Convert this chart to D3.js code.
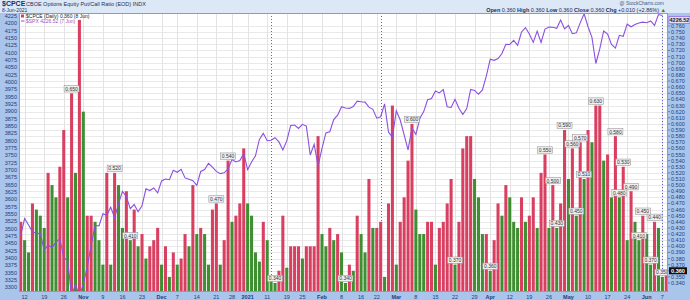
<!DOCTYPE html>
<html>
<head>
<meta charset="utf-8">
<script src="https://cdn.jsdelivr.net/npm/d3@7"></script>
<style>
  body { margin: 0; background: #fff; }
  svg { display: block; font-family: "Liberation Sans", Arial, sans-serif; }
</style>
</head>
<body>
<div id="canvas"></div>
<script>
"use strict"

/* Drawing dimensions */
let svgWidth = 690;
let svgHeight = 300;
let plotLeft = 19, plotRight = 668, plotTop = 13, plotBottom = 292;

/* Data: trading calendar (Oct 9 2020 - Jun 8 2021) */
let startDate = "2020-10-09";
let endDate = "2021-06-08";
let holidays = ["2020-11-26", "2020-12-25", "2021-01-01", "2021-01-18", "2021-02-15", "2021-04-02", "2021-05-31"];

/* $CPCE daily close, one per trading day */
let cpceValues = [
  0.44, 0.41, 0.39, 0.47, 0.46, 0.45, 0.43, 0.52, 0.50, 0.48,
  0.53, 0.59, 0.48, 0.65, 0.52, 0.77, 0.62, 0.45, 0.45, 0.44,
  0.41, 0.37, 0.52, 0.37, 0.52, 0.50, 0.43, 0.49, 0.41, 0.46,
  0.40, 0.42, 0.38, 0.40, 0.41, 0.43, 0.37, 0.40, 0.35, 0.39,
  0.37, 0.38, 0.42, 0.40, 0.50, 0.42, 0.43, 0.42, 0.37, 0.46,
  0.47, 0.37, 0.41, 0.54, 0.44, 0.45, 0.47, 0.56, 0.47, 0.45,
  0.39, 0.375, 0.44, 0.41, 0.35, 0.34, 0.36, 0.45, 0.365, 0.40,
  0.40, 0.40, 0.38, 0.40, 0.40, 0.40, 0.58, 0.42, 0.40, 0.43,
  0.41, 0.42, 0.39, 0.34, 0.37, 0.36, 0.45, 0.42, 0.39, 0.51,
  0.43, 0.43, 0.44, 0.35, 0.47, 0.63, 0.37, 0.44, 0.48, 0.54,
  0.60, 0.46, 0.42, 0.42, 0.44, 0.44, 0.37, 0.43, 0.44, 0.47,
  0.51, 0.37, 0.44, 0.56, 0.58, 0.58, 0.51, 0.48, 0.42, 0.42,
  0.36, 0.41, 0.47, 0.45, 0.50, 0.48, 0.44, 0.43, 0.48, 0.44,
  0.45, 0.48, 0.43, 0.52, 0.55, 0.43, 0.50, 0.43, 0.47, 0.59,
  0.51, 0.56, 0.45, 0.57, 0.51, 0.59, 0.57, 0.63, 0.63, 0.54,
  0.55, 0.48, 0.58, 0.48, 0.53, 0.41, 0.49, 0.44, 0.41, 0.45,
  0.42, 0.37, 0.44, 0.43, 0.35, 0.36
];

/* bar colour per day: r = red, g = green (10 per group) */
let cpceColors = (
  "rggrgggrgg" + "rrgrgrgrrg" + "ggrgrggrgr" + "grgrrrgrgr" +
  "grrgrgrggr" + "rgrrgrrrgg" + "ggrgggrrgr" + "rrgrrrrggr" +
  "grggrgrggr" + "grrgrrgrrr" + "rgggrrgrrr" + "rgrrrrgggr" +
  "grrgrgggrg" + "rrgrrgrgrr" + "grgrgrgrrg" + "rgrgrgrggr" +
  "ggrggr"
).split("");

/* $SPX daily close (Oct 9 2020 - Jun 7 2021) */
let spxValues = [
  3477.1, 3534.2, 3511.9, 3488.7, 3483.3, 3483.8, 3426.9, 3443.1, 3435.6, 3453.5,
  3465.4, 3401.0, 3390.7, 3271.0, 3310.1, 3270.0,
  3310.2, 3369.2, 3443.4, 3510.5, 3509.4, 3550.5, 3545.5, 3572.7, 3537.0, 3585.2,
  3626.9, 3609.5, 3567.8, 3581.9, 3557.5, 3577.6, 3635.4, 3629.7, 3638.4, 3621.6,
  3662.5, 3669.0, 3666.7, 3699.1, 3692.0, 3702.3, 3672.8, 3668.1, 3663.5, 3647.5,
  3694.6, 3701.2, 3722.5, 3709.4, 3694.9, 3687.3, 3690.0, 3703.1, 3735.4, 3727.0,
  3732.0, 3756.1,
  3700.7, 3726.9, 3748.1, 3803.8, 3824.7, 3799.6, 3801.2, 3809.8, 3795.5, 3768.3,
  3798.9, 3851.9, 3853.1, 3841.5, 3855.4, 3849.6, 3750.8, 3787.4, 3714.2,
  3773.9, 3826.3, 3830.2, 3871.7, 3886.8, 3915.6, 3911.2, 3909.9, 3916.4, 3934.8,
  3932.6, 3931.3, 3914.0, 3906.7, 3876.5, 3881.4, 3925.4, 3829.3, 3811.2,
  3901.8, 3870.3, 3819.7, 3768.5, 3841.9, 3821.4, 3875.4, 3898.8, 3939.3, 3943.3,
  3968.9, 3962.7, 3974.1, 3915.5, 3913.1, 3940.6, 3910.5, 3889.1, 3909.5, 3974.5,
  3971.1, 3958.6, 3972.9,
  4019.9, 4077.9, 4073.9, 4080.0, 4097.2, 4128.8, 4128.0, 4141.6, 4124.7, 4170.4,
  4185.5, 4163.3, 4134.9, 4173.4, 4135.0, 4180.2, 4187.6, 4186.7, 4183.2, 4211.5,
  4181.2,
  4192.7, 4164.7, 4167.6, 4201.6, 4232.6, 4188.4, 4152.1, 4063.0, 4112.5, 4173.9,
  4163.3, 4127.8, 4115.7, 4159.1, 4155.9, 4197.1, 4188.1, 4196.0, 4200.9, 4204.1,
  4202.0, 4208.1, 4192.9, 4229.9, 4226.52
];

/* x-axis tick labels (week starts) */
let tickDates = ["2020-10-12", "2020-10-19", "2020-10-26", "2020-11-02", "2020-11-09", "2020-11-16", "2020-11-23",
  "2020-12-01", "2020-12-07", "2020-12-14", "2020-12-21", "2020-12-28", "2021-01-04", "2021-01-11", "2021-01-19",
  "2021-01-25", "2021-02-01", "2021-02-08", "2021-02-16", "2021-02-22", "2021-03-01", "2021-03-08", "2021-03-15",
  "2021-03-22", "2021-03-29", "2021-04-05", "2021-04-12", "2021-04-19", "2021-04-26", "2021-05-03", "2021-05-10",
  "2021-05-17", "2021-05-24", "2021-06-01", "2021-06-07"];
let tickTexts = ["12", "19", "26", "Nov", "9", "16", "23", "Dec", "7", "14", "21", "28", "2021", "11", "19", "25",
  "Feb", "8", "16", "22", "Mar", "8", "15", "22", "29", "Apr", "12", "19", "26", "May", "10", "17", "24", "Jun", "7"];

/* days carrying a value box, and vertical marker days */
let labelDays = [13, 24, 28, 50, 53, 65, 83, 100, 111, 120, 134, 136, 137, 139, 141, 142, 143, 144, 147,
  152, 153, 154, 156, 158, 159, 161, 162, 164];
let markerDates = ["2021-01-12", "2021-02-23", "2021-06-07"];

/* Build the trading calendar */
let fmt = d3.timeFormat("%Y-%m-%d");
let parse = d3.timeParse("%Y-%m-%d");
let tradingDays = d3.timeDay.range(parse(startDate), d3.timeDay.offset(parse(endDate), 1))
  .filter(d => d.getDay() !== 0 && d.getDay() !== 6 && !holidays.includes(fmt(d)))
  .map(fmt);

let cpce = tradingDays.map((d, i) => ({ date: d, value: cpceValues[i], color: cpceColors[i] }));
let spx = spxValues.map((v, i) => ({ date: tradingDays[i], value: v }));

/* Canvas */
let svg = d3.select("#canvas").append("svg")
  .attr("width", svgWidth)
  .attr("height", svgHeight);

/* Scales */
let xScale = d3.scaleBand()
  .domain(tradingDays)
  .range([plotLeft, plotRight])
  .paddingInner(0.22)
  .paddingOuter(0.05);
let xc = d => xScale(d) + xScale.bandwidth() / 2;

let yCpce = d3.scaleLinear().domain([0.34, 0.76]).range([283, 26]);
let ySpx = d3.scaleLinear().domain([3300, 4225]).range([287.2, 16]);

/* Background bands */
svg.append("rect").attr("width", svgWidth).attr("height", svgHeight).attr("fill", "#a9c5ec");
svg.append("rect").attr("width", svgWidth).attr("height", plotTop).attr("fill", "#dde8f6");
svg.append("rect")
  .attr("x", plotLeft).attr("y", plotTop)
  .attr("width", plotRight - plotLeft).attr("height", plotBottom - plotTop)
  .attr("fill", "#fff");

svg.append("clipPath").attr("id", "plotclip").append("rect")
  .attr("x", plotLeft).attr("y", plotTop)
  .attr("width", plotRight - plotLeft).attr("height", plotBottom - plotTop);

let plot = svg.append("g").attr("clip-path", "url(#plotclip)");

/* Grid lines */
let rightTicks = d3.range(34, 77).map(v => v / 100);
plot.selectAll(".hgrid").data(rightTicks).join("line")
  .attr("x1", plotLeft).attr("x2", plotRight)
  .attr("y1", d => Math.round(yCpce(d)) + 0.5).attr("y2", d => Math.round(yCpce(d)) + 0.5)
  .attr("stroke", "#e9e9e9").attr("stroke-width", 1);

plot.selectAll(".vgrid").data(tickDates).join("line")
  .attr("x1", d => Math.round(xc(d)) + 0.5).attr("x2", d => Math.round(xc(d)) + 0.5)
  .attr("y1", plotTop).attr("y2", plotBottom)
  .attr("stroke", "#e3e3e3").attr("stroke-width", 1);

/* Vertical dotted markers */
plot.selectAll(".marker").data(markerDates).join("line")
  .attr("x1", d => Math.round(xc(d)) + 0.5).attr("x2", d => Math.round(xc(d)) + 0.5)
  .attr("y1", plotTop).attr("y2", plotBottom)
  .attr("stroke", "#5a63d8").attr("stroke-width", 1)
  .attr("stroke-dasharray", "1,2");

/* CPCE bars */
plot.selectAll(".bar").data(cpce).join("rect")
  .attr("x", d => xScale(d.date))
  .attr("width", xScale.bandwidth())
  .attr("y", d => yCpce(d.value))
  .attr("height", d => plotBottom - yCpce(d.value))
  .attr("fill", d => d.color === "r" ? "#d93f61" : "#3f8f32");

/* SPX line */
let line = d3.line()
  .x(d => xc(d.date))
  .y(d => ySpx(d.value));
plot.append("path")
  .datum(spx)
  .attr("d", line)
  .attr("fill", "none")
  .attr("stroke", "#8c4fe0")
  .attr("stroke-width", 1.1);

/* Value boxes above selected bars */
let boxes = plot.selectAll(".vbox").data(labelDays.map(i => cpce[i])).join("g")
  .attr("transform", d => "translate(" + xc(d.date) + "," + (yCpce(d.value) - 4.5) + ")");
boxes.append("rect")
  .attr("x", -7.5).attr("y", -3.2).attr("width", 15).attr("height", 6.4)
  .attr("fill", "#efefef").attr("stroke", "#8a8a8a").attr("stroke-width", 0.5);
boxes.append("text")
  .attr("text-anchor", "middle").attr("y", 1.9)
  .style("font-size", "5px").attr("fill", "#333")
  .text(d => d3.format(".3f")(d.value));

/* Plot border */
svg.append("rect")
  .attr("x", plotLeft + 0.5).attr("y", plotTop + 0.5)
  .attr("width", plotRight - plotLeft - 1).attr("height", plotBottom - plotTop - 1)
  .attr("fill", "none").attr("stroke", "#7f9fcf").attr("stroke-width", 1);

/* Left axis: SPX */
let leftTicks = d3.range(3300, 4226, 25);
svg.selectAll(".ltick").data(leftTicks).join("text")
  .attr("x", plotLeft - 2)
  .attr("y", d => ySpx(d) + 2)
  .attr("text-anchor", "end")
  .style("font-size", "5.5px")
  .attr("fill", "#1c3d7a")
  .text(d => d);

/* Right axis: CPCE */
svg.selectAll(".rtick").data(rightTicks).join("text")
  .attr("x", plotRight + 3)
  .attr("y", d => yCpce(d) + 2)
  .style("font-size", "5.5px")
  .attr("fill", "#1c3d7a")
  .text(d => d3.format(".3f")(d));
svg.selectAll(".rtickmark").data(rightTicks).join("line")
  .attr("x1", plotRight).attr("x2", plotRight + 2)
  .attr("y1", d => yCpce(d)).attr("y2", d => yCpce(d))
  .attr("stroke", "#1c3d7a").attr("stroke-width", 0.5);

/* Current value boxes on the right axis */
let lastSpx = spx[spx.length - 1];
let lastCpce = cpce[cpce.length - 1];
svg.append("rect")
  .attr("x", plotRight + 1).attr("y", ySpx(lastSpx.value) + 1).attr("width", 21).attr("height", 7)
  .attr("fill", "#e6dcf7").attr("stroke", "#8c4fe0").attr("stroke-width", 0.6);
svg.append("text")
  .attr("x", plotRight + 11.5).attr("y", ySpx(lastSpx.value) + 6.5)
  .attr("text-anchor", "middle").style("font-size", "5.5px").style("font-weight", "bold")
  .attr("fill", "#222").text(d3.format(".2f")(lastSpx.value));
svg.append("rect")
  .attr("x", plotRight + 1).attr("y", yCpce(lastCpce.value) - 3.5).attr("width", 18).attr("height", 7)
  .attr("fill", "#111");
svg.append("text")
  .attr("x", plotRight + 10).attr("y", yCpce(lastCpce.value) + 2)
  .attr("text-anchor", "middle").style("font-size", "5.5px").style("font-weight", "bold")
  .attr("fill", "#fff").text(d3.format(".3f")(lastCpce.value));

/* Bottom axis labels */
svg.selectAll(".xtick").data(tickDates).join("text")
  .attr("x", d => xc(d))
  .attr("y", 298.5)
  .attr("text-anchor", "middle")
  .style("font-size", "5.5px")
  .style("font-weight", (d, i) => isNaN(+tickTexts[i]) || tickTexts[i] === "2021" ? "bold" : "normal")
  .attr("fill", "#1c3d7a")
  .text((d, i) => tickTexts[i]);

/* Header */
svg.append("text")
  .attr("x", 2).attr("y", 6)
  .style("font-size", "7px").style("font-weight", "bold").attr("fill", "#1c2f5a")
  .text("$CPCE");
svg.append("text")
  .attr("x", 26).attr("y", 6)
  .style("font-size", "5.5px").attr("fill", "#1c2f5a")
  .text("CBOE Options Equity Put/Call Ratio (EOD)  INDX");
svg.append("text")
  .attr("x", 2).attr("y", 11.5)
  .style("font-size", "5px").attr("fill", "#1c2f5a")
  .text("8-Jun-2021");
svg.append("text")
  .attr("x", 664).attr("y", 5)
  .attr("text-anchor", "end")
  .style("font-size", "5px").attr("fill", "#4a5a7a")
  .text("@ StockCharts.com");
svg.append("text")
  .attr("x", 666).attr("y", 11.5)
  .attr("text-anchor", "end")
  .style("font-size", "5.5px").attr("fill", "#1c2f5a")
  .html("<tspan font-weight='bold'>Open</tspan> 0.360  <tspan font-weight='bold'>High</tspan> 0.360  " +
    "<tspan font-weight='bold'>Low</tspan> 0.360  <tspan font-weight='bold'>Close</tspan> 0.360  " +
    "<tspan font-weight='bold'>Chg</tspan> +0.010 (+2.86%) <tspan fill='#2a8a2a'>▲</tspan>");

/* Legend inside plot */
svg.append("rect")
  .attr("x", 21).attr("y", 14.5).attr("width", 3).attr("height", 3)
  .attr("fill", "#d93f61");
svg.append("text")
  .attr("x", 26).attr("y", 17.5)
  .style("font-size", "5px").attr("fill", "#222")
  .text("$CPCE (Daily) 0.360 (8 Jun)");
svg.append("line")
  .attr("x1", 21).attr("x2", 24.5).attr("y1", 21).attr("y2", 21)
  .attr("stroke", "#8c4fe0").attr("stroke-width", 1);
svg.append("text")
  .attr("x", 26).attr("y", 23)
  .style("font-size", "5px").attr("fill", "#a04fc8")
  .text("$SPX 4226.52 (7 Jun)");
</script>
</body>
</html>
